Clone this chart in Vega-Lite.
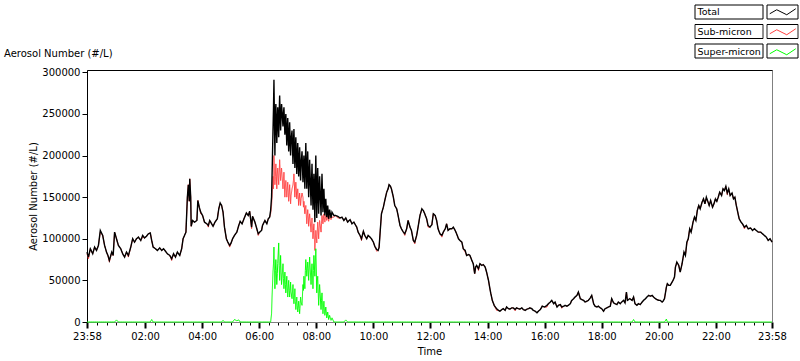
{
 "$schema": "https://vega.github.io/schema/vega-lite/v6.json",
 "width": 685, "height": 252,
 "autosize": {"type": "none"},
 "padding": {"left": 87, "top": 70, "right": 28, "bottom": 39},
 "background": "white",
 "config": {
  "font": "DejaVu Sans",
  "view": {"stroke": "#808080", "strokeWidth": 1},
  "axis": {"labelFont": "DejaVu Sans", "labelFontSize": 10, "labelColor": "black", "titleFont": "DejaVu Sans", "titleFontSize": 10, "titleFontWeight": "normal", "titleColor": "black", "domainColor": "black", "tickColor": "black", "grid": false},
  "axisY": {"title": "Aerosol Number (#/L)", "titlePadding": 3, "values": [0,25000,50000,75000,100000,125000,150000,175000,200000,225000,250000,275000,300000], "format": "d", "tickSize": 5, "labelPadding": 2, "labelFlush": false}
 },
 "title": {"text": "Aerosol Number (#/L)", "anchor": "start", "frame": "group", "dx": -83, "offset": 0, "dy": 52, "font": "DejaVu Sans", "fontSize": 10, "fontWeight": "normal", "color": "black"},
 "data": {"values": [
  {"t":0,"Total":84000,"Sub":82000,"Super":0},{"t":3,"Total":78000,"Sub":76000,"Super":0},{"t":7,"Total":88000,"Sub":88000,"Super":0},{"t":12,"Total":82000,"Sub":82000,"Super":0},{"t":16,"Total":90000,"Sub":90000,"Super":0},{"t":20,"Total":86000,"Sub":86000,"Super":0},{"t":24,"Total":92000,"Sub":92000,"Super":0},{"t":28,"Total":110000,"Sub":108000,"Super":0},{"t":33,"Total":104000,"Sub":104000,"Super":0},{"t":37,"Total":92000,"Sub":92000,"Super":0},{"t":41,"Total":84000,"Sub":84000,"Super":0},{"t":44,"Total":80000,"Sub":80000,"Super":0},{"t":47,"Total":74000,"Sub":72000,"Super":0},{"t":52,"Total":84000,"Sub":84000,"Super":0},{"t":55,"Total":80000,"Sub":80000,"Super":0},{"t":58,"Total":108000,"Sub":108000,"Super":0},{"t":62,"Total":100000,"Sub":100000,"Super":2500},{"t":66,"Total":92000,"Sub":92000,"Super":0},{"t":71,"Total":88000,"Sub":88000,"Super":0},{"t":75,"Total":82000,"Sub":82000,"Super":0},{"t":79,"Total":78000,"Sub":78000,"Super":0},{"t":83,"Total":84000,"Sub":84000,"Super":0},{"t":87,"Total":80000,"Sub":78000,"Super":0},{"t":92,"Total":90000,"Sub":90000,"Super":0},{"t":96,"Total":100000,"Sub":100000,"Super":0},{"t":100,"Total":96000,"Sub":96000,"Super":0},{"t":104,"Total":100000,"Sub":100000,"Super":0},{"t":108,"Total":102000,"Sub":102000,"Super":0},{"t":113,"Total":98000,"Sub":98000,"Super":0},{"t":117,"Total":104000,"Sub":102000,"Super":0},{"t":121,"Total":101000,"Sub":101000,"Super":0},{"t":125,"Total":103000,"Sub":103000,"Super":0},{"t":129,"Total":106000,"Sub":106000,"Super":0},{"t":133,"Total":107000,"Sub":107000,"Super":0},{"t":136,"Total":98000,"Sub":98000,"Super":3000},{"t":139,"Total":90000,"Sub":90000,"Super":0},{"t":144,"Total":88000,"Sub":88000,"Super":0},{"t":148,"Total":86000,"Sub":86000,"Super":0},{"t":153,"Total":89000,"Sub":89000,"Super":0},{"t":157,"Total":86000,"Sub":86000,"Super":0},{"t":161,"Total":88000,"Sub":88000,"Super":0},{"t":165,"Total":85000,"Sub":85000,"Super":0},{"t":169,"Total":82000,"Sub":82000,"Super":0},{"t":174,"Total":80000,"Sub":80000,"Super":0},{"t":178,"Total":76000,"Sub":74000,"Super":0},{"t":182,"Total":82000,"Sub":82000,"Super":0},{"t":186,"Total":78000,"Sub":78000,"Super":0},{"t":190,"Total":84000,"Sub":84000,"Super":0},{"t":195,"Total":80000,"Sub":80000,"Super":0},{"t":199,"Total":88000,"Sub":88000,"Super":0},{"t":202,"Total":100000,"Sub":100000,"Super":0},{"t":205,"Total":104000,"Sub":104000,"Super":0},{"t":208,"Total":108000,"Sub":108000,"Super":0},
  {"t":211,"Total":150000,"Sub":150000,"Super":0},{"t":213,"Total":165000,"Sub":165000,"Super":0},{"t":215,"Total":145000,"Sub":145000,"Super":0},{"t":216,"Total":172000,"Sub":172000,"Super":0},{"t":218,"Total":150000,"Sub":150000,"Super":0},{"t":219,"Total":115000,"Sub":115000,"Super":0},{"t":222,"Total":122000,"Sub":122000,"Super":0},{"t":226,"Total":120000,"Sub":120000,"Super":0},{"t":231,"Total":122000,"Sub":122000,"Super":0},{"t":233,"Total":146000,"Sub":146000,"Super":0},{"t":236,"Total":138000,"Sub":138000,"Super":0},{"t":239,"Total":132000,"Sub":130000,"Super":0},{"t":243,"Total":128000,"Sub":128000,"Super":0},{"t":247,"Total":120000,"Sub":120000,"Super":0},{"t":252,"Total":118000,"Sub":118000,"Super":0},{"t":255,"Total":116000,"Sub":114000,"Super":0},{"t":258,"Total":122000,"Sub":122000,"Super":0},{"t":262,"Total":118000,"Sub":118000,"Super":0},{"t":265,"Total":115000,"Sub":115000,"Super":0},{"t":269,"Total":120000,"Sub":120000,"Super":0},{"t":274,"Total":124000,"Sub":124000,"Super":0},{"t":277,"Total":136000,"Sub":136000,"Super":0},{"t":280,"Total":143000,"Sub":143000,"Super":0},{"t":283,"Total":140000,"Sub":140000,"Super":0},{"t":286,"Total":132000,"Sub":132000,"Super":2000},{"t":289,"Total":114000,"Sub":114000,"Super":0},{"t":293,"Total":100000,"Sub":100000,"Super":0},{"t":296,"Total":96000,"Sub":96000,"Super":0},{"t":300,"Total":92000,"Sub":90000,"Super":0},{"t":303,"Total":95000,"Sub":95000,"Super":0},{"t":306,"Total":100000,"Sub":100000,"Super":0},{"t":310,"Total":104000,"Sub":104000,"Super":3000},{"t":315,"Total":108000,"Sub":108000,"Super":1500},{"t":319,"Total":116000,"Sub":116000,"Super":2500},{"t":322,"Total":121000,"Sub":121000,"Super":0},{"t":326,"Total":118000,"Sub":118000,"Super":0},{"t":330,"Total":124000,"Sub":124000,"Super":0},{"t":335,"Total":131000,"Sub":131000,"Super":0},{"t":339,"Total":128000,"Sub":128000,"Super":0},{"t":342,"Total":133000,"Sub":133000,"Super":0},{"t":346,"Total":114000,"Sub":112000,"Super":0},{"t":348,"Total":127000,"Sub":127000,"Super":0},{"t":353,"Total":120000,"Sub":120000,"Super":0},{"t":357,"Total":112000,"Sub":112000,"Super":0},{"t":360,"Total":106000,"Sub":104000,"Super":0},{"t":363,"Total":108000,"Sub":108000,"Super":0},{"t":367,"Total":110000,"Sub":110000,"Super":0},{"t":369,"Total":116000,"Sub":116000,"Super":0},{"t":374,"Total":122000,"Sub":122000,"Super":0},{"t":378,"Total":118000,"Sub":118000,"Super":0},{"t":381,"Total":124000,"Sub":124000,"Super":0},{"t":384,"Total":126000,"Sub":126000,"Super":0},{"t":386,"Total":134000,"Sub":130000,"Super":0},
  {"t":388,"Total":150000,"Sub":140000,"Super":10000},{"t":389,"Total":175000,"Sub":150000,"Super":30000},{"t":391,"Total":230000,"Sub":175000,"Super":60000},{"t":392,"Total":255000,"Sub":160000,"Super":70000},{"t":393,"Total":291000,"Sub":200000,"Super":90000},{"t":395,"Total":200000,"Sub":165000,"Super":40000},{"t":396,"Total":245000,"Sub":175000,"Super":62000},{"t":397,"Total":262000,"Sub":190000,"Super":75000},{"t":399,"Total":215000,"Sub":160000,"Super":45000},{"t":400,"Total":240000,"Sub":178000,"Super":58000},{"t":401,"Total":258000,"Sub":185000,"Super":70000},{"t":403,"Total":222000,"Sub":165000,"Super":95000},{"t":404,"Total":250000,"Sub":180000,"Super":68000},{"t":405,"Total":272000,"Sub":195000,"Super":50000},{"t":407,"Total":230000,"Sub":170000,"Super":80000},{"t":408,"Total":248000,"Sub":178000,"Super":60000},{"t":409,"Total":262000,"Sub":185000,"Super":45000},{"t":412,"Total":235000,"Sub":160000,"Super":70000},{"t":413,"Total":250000,"Sub":172000,"Super":52000},{"t":414,"Total":258000,"Sub":180000,"Super":40000},{"t":416,"Total":225000,"Sub":150000,"Super":60000},{"t":417,"Total":238000,"Sub":162000,"Super":45000},{"t":418,"Total":250000,"Sub":170000,"Super":35000},{"t":420,"Total":212000,"Sub":150000,"Super":55000},{"t":421,"Total":232000,"Sub":160000,"Super":42000},{"t":422,"Total":245000,"Sub":168000,"Super":30000},{"t":424,"Total":205000,"Sub":145000,"Super":50000},{"t":425,"Total":222000,"Sub":155000,"Super":38000},{"t":426,"Total":240000,"Sub":165000,"Super":30000},{"t":428,"Total":200000,"Sub":142000,"Super":48000},{"t":429,"Total":218000,"Sub":152000,"Super":36000},{"t":431,"Total":230000,"Sub":160000,"Super":28000},{"t":433,"Total":190000,"Sub":165000,"Super":45000},{"t":434,"Total":214000,"Sub":170000,"Super":30000},{"t":435,"Total":232000,"Sub":178000,"Super":22000},{"t":437,"Total":185000,"Sub":150000,"Super":40000},{"t":438,"Total":205000,"Sub":160000,"Super":25000},{"t":439,"Total":222000,"Sub":168000,"Super":15000},{"t":441,"Total":178000,"Sub":148000,"Super":30000},{"t":442,"Total":198000,"Sub":155000,"Super":20000},{"t":443,"Total":215000,"Sub":160000,"Super":12000},{"t":445,"Total":175000,"Sub":140000,"Super":25000},{"t":446,"Total":192000,"Sub":148000,"Super":16000},{"t":447,"Total":210000,"Sub":155000,"Super":10000},{"t":449,"Total":170000,"Sub":140000,"Super":30000},{"t":450,"Total":188000,"Sub":148000,"Super":24000},{"t":452,"Total":205000,"Sub":155000,"Super":20000},{"t":454,"Total":168000,"Sub":150000,"Super":45000},{"t":455,"Total":185000,"Sub":138000,"Super":38000},{"t":456,"Total":200000,"Sub":145000,"Super":55000},{"t":458,"Total":160000,"Sub":130000,"Super":40000},{"t":459,"Total":190000,"Sub":136000,"Super":62000},{"t":460,"Total":215000,"Sub":140000,"Super":75000},{"t":462,"Total":160000,"Sub":118000,"Super":55000},{"t":463,"Total":185000,"Sub":128000,"Super":64000},{"t":464,"Total":205000,"Sub":135000,"Super":72000},{"t":466,"Total":150000,"Sub":115000,"Super":50000},{"t":467,"Total":172000,"Sub":124000,"Super":66000},{"t":468,"Total":195000,"Sub":130000,"Super":78000},{"t":471,"Total":140000,"Sub":108000,"Super":45000},{"t":472,"Total":168000,"Sub":118000,"Super":60000},{"t":473,"Total":190000,"Sub":125000,"Super":70000},{"t":475,"Total":135000,"Sub":100000,"Super":40000},{"t":476,"Total":158000,"Sub":110000,"Super":62000},{"t":477,"Total":178000,"Sub":118000,"Super":80000},{"t":479,"Total":120000,"Sub":86000,"Super":55000},{"t":480,"Total":165000,"Sub":98000,"Super":72000},{"t":481,"Total":200000,"Sub":110000,"Super":88000},{"t":483,"Total":125000,"Sub":95000,"Super":35000},{"t":484,"Total":160000,"Sub":108000,"Super":48000},{"t":485,"Total":185000,"Sub":120000,"Super":55000},{"t":487,"Total":130000,"Sub":100000,"Super":20000},{"t":488,"Total":152000,"Sub":112000,"Super":34000},{"t":489,"Total":175000,"Sub":122000,"Super":45000},{"t":492,"Total":128000,"Sub":108000,"Super":15000},{"t":493,"Total":155000,"Sub":118000,"Super":26000},{"t":494,"Total":178000,"Sub":128000,"Super":35000},{"t":496,"Total":132000,"Sub":118000,"Super":10000},{"t":497,"Total":146000,"Sub":124000,"Super":18000},{"t":498,"Total":160000,"Sub":130000,"Super":25000},{"t":500,"Total":128000,"Sub":120000,"Super":8000},{"t":502,"Total":148000,"Sub":128000,"Super":18000},{"t":504,"Total":126000,"Sub":122000,"Super":5000},{"t":506,"Total":140000,"Sub":128000,"Super":12000},{"t":508,"Total":124000,"Sub":121000,"Super":3000},{"t":510,"Total":135000,"Sub":128000,"Super":8000},{"t":513,"Total":125000,"Sub":123000,"Super":2000},{"t":515,"Total":132000,"Sub":126000,"Super":5000},{"t":519,"Total":128000,"Sub":126000,"Super":0},{"t":523,"Total":128000,"Sub":128000,"Super":0},{"t":527,"Total":127000,"Sub":125000,"Super":0},{"t":532,"Total":125000,"Sub":125000,"Super":0},
  {"t":536,"Total":126000,"Sub":126000,"Super":0},{"t":540,"Total":122000,"Sub":122000,"Super":0},{"t":544,"Total":125000,"Sub":125000,"Super":2500},{"t":548,"Total":120000,"Sub":120000,"Super":0},{"t":553,"Total":123000,"Sub":123000,"Super":0},{"t":557,"Total":118000,"Sub":118000,"Super":0},{"t":561,"Total":120000,"Sub":120000,"Super":0},{"t":567,"Total":114000,"Sub":114000,"Super":0},{"t":570,"Total":108000,"Sub":108000,"Super":0},{"t":574,"Total":104000,"Sub":104000,"Super":0},{"t":577,"Total":100000,"Sub":98000,"Super":0},{"t":581,"Total":109000,"Sub":109000,"Super":0},{"t":584,"Total":104000,"Sub":104000,"Super":0},{"t":588,"Total":100000,"Sub":100000,"Super":0},{"t":591,"Total":104000,"Sub":104000,"Super":0},{"t":595,"Total":102000,"Sub":102000,"Super":0},{"t":598,"Total":100000,"Sub":100000,"Super":0},{"t":602,"Total":96000,"Sub":96000,"Super":0},{"t":605,"Total":91000,"Sub":91000,"Super":0},{"t":609,"Total":87000,"Sub":85000,"Super":0},{"t":612,"Total":86000,"Sub":86000,"Super":0},{"t":614,"Total":89500,"Sub":89500,"Super":0},{"t":617,"Total":114000,"Sub":114000,"Super":0},{"t":619,"Total":130000,"Sub":130000,"Super":0},{"t":623,"Total":138000,"Sub":138000,"Super":0},{"t":626,"Total":146000,"Sub":146000,"Super":0},{"t":630,"Total":156000,"Sub":156000,"Super":0},{"t":633,"Total":160000,"Sub":160000,"Super":0},{"t":635,"Total":165000,"Sub":165000,"Super":0},{"t":638,"Total":163000,"Sub":163000,"Super":0},{"t":640,"Total":160000,"Sub":160000,"Super":0},{"t":644,"Total":150000,"Sub":150000,"Super":0},{"t":647,"Total":140000,"Sub":140000,"Super":0},{"t":651,"Total":136000,"Sub":136000,"Super":0},{"t":654,"Total":128000,"Sub":128000,"Super":0},{"t":658,"Total":116000,"Sub":116000,"Super":0},{"t":661,"Total":112000,"Sub":112000,"Super":0},{"t":665,"Total":108000,"Sub":108000,"Super":0},{"t":668,"Total":106000,"Sub":104000,"Super":0},{"t":672,"Total":112000,"Sub":112000,"Super":0},{"t":675,"Total":122000,"Sub":122000,"Super":0},{"t":679,"Total":114000,"Sub":114000,"Super":0},{"t":682,"Total":110000,"Sub":110000,"Super":0},{"t":686,"Total":98000,"Sub":98000,"Super":0},{"t":689,"Total":96000,"Sub":94000,"Super":0},{"t":693,"Total":104000,"Sub":104000,"Super":0},{"t":696,"Total":114000,"Sub":114000,"Super":0},{"t":700,"Total":128000,"Sub":128000,"Super":0},{"t":704,"Total":136000,"Sub":136000,"Super":0},{"t":707,"Total":134000,"Sub":134000,"Super":0},{"t":710,"Total":130000,"Sub":130000,"Super":0},{"t":714,"Total":124000,"Sub":124000,"Super":0},{"t":717,"Total":116000,"Sub":114000,"Super":0},{"t":721,"Total":114000,"Sub":114000,"Super":0},{"t":725,"Total":117000,"Sub":117000,"Super":0},{"t":728,"Total":130000,"Sub":130000,"Super":0},{"t":732,"Total":128000,"Sub":128000,"Super":0},{"t":735,"Total":122000,"Sub":122000,"Super":0},{"t":738,"Total":112000,"Sub":112000,"Super":0},{"t":742,"Total":106000,"Sub":106000,"Super":0},{"t":746,"Total":104000,"Sub":102000,"Super":0},{"t":749,"Total":108000,"Sub":108000,"Super":0},{"t":753,"Total":112000,"Sub":112000,"Super":0},{"t":756,"Total":118000,"Sub":118000,"Super":0},{"t":759,"Total":110000,"Sub":110000,"Super":0},{"t":763,"Total":112000,"Sub":112000,"Super":0},{"t":767,"Total":112000,"Sub":112000,"Super":0},{"t":770,"Total":114000,"Sub":114000,"Super":0},{"t":774,"Total":110000,"Sub":110000,"Super":0},{"t":777,"Total":106000,"Sub":106000,"Super":0},{"t":781,"Total":100000,"Sub":100000,"Super":0},
  {"t":784,"Total":98000,"Sub":98000,"Super":0},{"t":788,"Total":96000,"Sub":96000,"Super":0},{"t":791,"Total":88000,"Sub":88000,"Super":0},{"t":795,"Total":86000,"Sub":84000,"Super":0},{"t":798,"Total":80000,"Sub":80000,"Super":0},{"t":802,"Total":81000,"Sub":81000,"Super":0},{"t":805,"Total":80000,"Sub":80000,"Super":0},{"t":809,"Total":74000,"Sub":74000,"Super":0},{"t":812,"Total":70000,"Sub":70000,"Super":0},{"t":815,"Total":58000,"Sub":58000,"Super":0},{"t":817,"Total":66000,"Sub":66000,"Super":0},{"t":819,"Total":68000,"Sub":68000,"Super":0},{"t":823,"Total":64000,"Sub":62000,"Super":0},{"t":826,"Total":70000,"Sub":70000,"Super":0},{"t":830,"Total":68000,"Sub":68000,"Super":0},{"t":833,"Total":69000,"Sub":69000,"Super":0},{"t":837,"Total":66000,"Sub":66000,"Super":0},{"t":840,"Total":60000,"Sub":60000,"Super":0},{"t":844,"Total":50000,"Sub":50000,"Super":0},{"t":847,"Total":40000,"Sub":40000,"Super":0},{"t":849,"Total":34000,"Sub":34000,"Super":0},{"t":852,"Total":26000,"Sub":26000,"Super":0},{"t":856,"Total":20000,"Sub":20000,"Super":0},{"t":861,"Total":16000,"Sub":14000,"Super":0},{"t":865,"Total":14000,"Sub":14000,"Super":0},{"t":868,"Total":13000,"Sub":13000,"Super":0},{"t":872,"Total":15000,"Sub":15000,"Super":0},{"t":875,"Total":16000,"Sub":16000,"Super":0},{"t":879,"Total":14000,"Sub":14000,"Super":0},{"t":882,"Total":18000,"Sub":18000,"Super":0},{"t":886,"Total":16000,"Sub":16000,"Super":0},{"t":889,"Total":15500,"Sub":15500,"Super":0},{"t":893,"Total":17000,"Sub":17000,"Super":0},{"t":896,"Total":17000,"Sub":17000,"Super":0},{"t":900,"Total":15000,"Sub":13500,"Super":0},{"t":903,"Total":17000,"Sub":17000,"Super":0},{"t":907,"Total":16000,"Sub":16000,"Super":0},{"t":910,"Total":15500,"Sub":15500,"Super":0},{"t":914,"Total":17000,"Sub":17000,"Super":0},{"t":917,"Total":15000,"Sub":15000,"Super":0},{"t":921,"Total":14000,"Sub":14000,"Super":0},{"t":925,"Total":15500,"Sub":15500,"Super":0},{"t":928,"Total":16000,"Sub":16000,"Super":0},{"t":931,"Total":17000,"Sub":17000,"Super":0},{"t":935,"Total":16000,"Sub":16000,"Super":0},{"t":938,"Total":14000,"Sub":14000,"Super":0},{"t":942,"Total":13000,"Sub":13000,"Super":0},{"t":946,"Total":11000,"Sub":11000,"Super":0},{"t":949,"Total":13000,"Sub":13000,"Super":0},{"t":953,"Total":15000,"Sub":15000,"Super":0},{"t":957,"Total":19000,"Sub":19000,"Super":0},{"t":962,"Total":18000,"Sub":18000,"Super":0},{"t":967,"Total":20000,"Sub":18000,"Super":0},{"t":970,"Total":22000,"Sub":22000,"Super":0},{"t":974,"Total":24000,"Sub":24000,"Super":0},{"t":977,"Total":26000,"Sub":26000,"Super":0},{"t":981,"Total":22000,"Sub":22000,"Super":0},{"t":984,"Total":24000,"Sub":24000,"Super":0},{"t":988,"Total":18000,"Sub":18000,"Super":0},{"t":991,"Total":20000,"Sub":20000,"Super":0},{"t":995,"Total":21000,"Sub":21000,"Super":0},{"t":998,"Total":18000,"Sub":16500,"Super":0},{"t":1002,"Total":19000,"Sub":19000,"Super":0},{"t":1005,"Total":20000,"Sub":20000,"Super":0},{"t":1009,"Total":19000,"Sub":19000,"Super":0},{"t":1012,"Total":20000,"Sub":20000,"Super":0},{"t":1016,"Total":22000,"Sub":22000,"Super":0},{"t":1019,"Total":26000,"Sub":26000,"Super":0},{"t":1023,"Total":28000,"Sub":28000,"Super":0},{"t":1026,"Total":30000,"Sub":30000,"Super":0},{"t":1030,"Total":32000,"Sub":32000,"Super":0},{"t":1033,"Total":36000,"Sub":36000,"Super":0},{"t":1037,"Total":28000,"Sub":28000,"Super":0},{"t":1040,"Total":27000,"Sub":27000,"Super":0},{"t":1044,"Total":26000,"Sub":26000,"Super":0},{"t":1047,"Total":24000,"Sub":24000,"Super":0},{"t":1051,"Total":25000,"Sub":25000,"Super":0},{"t":1054,"Total":26000,"Sub":26000,"Super":0},{"t":1058,"Total":29000,"Sub":29000,"Super":0},{"t":1061,"Total":32000,"Sub":32000,"Super":0},{"t":1065,"Total":22000,"Sub":22000,"Super":0},{"t":1068,"Total":19000,"Sub":19000,"Super":0},{"t":1072,"Total":18000,"Sub":18000,"Super":0},{"t":1075,"Total":19000,"Sub":19000,"Super":0},{"t":1079,"Total":17000,"Sub":17000,"Super":0},{"t":1082,"Total":16000,"Sub":16000,"Super":0},{"t":1086,"Total":13000,"Sub":13000,"Super":0},{"t":1089,"Total":16000,"Sub":16000,"Super":0},{"t":1093,"Total":17000,"Sub":17000,"Super":0},{"t":1096,"Total":18000,"Sub":18000,"Super":0},{"t":1100,"Total":19000,"Sub":19000,"Super":0},{"t":1103,"Total":28000,"Sub":28000,"Super":0},{"t":1107,"Total":23000,"Sub":23000,"Super":0},{"t":1110,"Total":22000,"Sub":22000,"Super":0},{"t":1114,"Total":21000,"Sub":21000,"Super":0},{"t":1117,"Total":24000,"Sub":24000,"Super":0},{"t":1121,"Total":22000,"Sub":22000,"Super":0},{"t":1124,"Total":24000,"Sub":24000,"Super":0},{"t":1128,"Total":26000,"Sub":26000,"Super":0},{"t":1131,"Total":23000,"Sub":23000,"Super":0},{"t":1134,"Total":36000,"Sub":36000,"Super":0},{"t":1136,"Total":26000,"Sub":26000,"Super":0},{"t":1141,"Total":28000,"Sub":28000,"Super":0},{"t":1146,"Total":26000,"Sub":26000,"Super":0},{"t":1149,"Total":30000,"Sub":30000,"Super":3000},{"t":1152,"Total":22000,"Sub":22000,"Super":0},{"t":1156,"Total":20000,"Sub":20000,"Super":0},{"t":1159,"Total":22000,"Sub":22000,"Super":0},{"t":1163,"Total":21000,"Sub":21000,"Super":0},{"t":1167,"Total":24000,"Sub":24000,"Super":0},{"t":1170,"Total":26000,"Sub":26000,"Super":0},{"t":1174,"Total":28000,"Sub":28000,"Super":0},{"t":1177,"Total":30000,"Sub":30000,"Super":0},{"t":1181,"Total":32000,"Sub":32000,"Super":0},{"t":1184,"Total":31000,"Sub":31000,"Super":0},{"t":1188,"Total":32000,"Sub":32000,"Super":0},{"t":1191,"Total":30000,"Sub":30000,"Super":0},{"t":1195,"Total":28000,"Sub":28000,"Super":0},{"t":1198,"Total":27000,"Sub":27000,"Super":0},{"t":1202,"Total":26000,"Sub":26000,"Super":0},{"t":1205,"Total":26000,"Sub":26000,"Super":0},{"t":1209,"Total":24000,"Sub":24000,"Super":0},{"t":1211,"Total":25000,"Sub":25000,"Super":0},{"t":1214,"Total":28000,"Sub":28000,"Super":0},{"t":1218,"Total":42000,"Sub":42000,"Super":3500},{"t":1220,"Total":46000,"Sub":46000,"Super":0},{"t":1223,"Total":44000,"Sub":44000,"Super":0},{"t":1226,"Total":44000,"Sub":44000,"Super":0},{"t":1230,"Total":48000,"Sub":48000,"Super":0},{"t":1232,"Total":50000,"Sub":50000,"Super":0},{"t":1235,"Total":54000,"Sub":54000,"Super":0},{"t":1237,"Total":66000,"Sub":66000,"Super":0},{"t":1240,"Total":72000,"Sub":72000,"Super":0},{"t":1244,"Total":68000,"Sub":68000,"Super":0},{"t":1247,"Total":60000,"Sub":60000,"Super":0},
  {"t":1251,"Total":70000,"Sub":70000,"Super":0},{"t":1255,"Total":84000,"Sub":84000,"Super":0},{"t":1258,"Total":80000,"Sub":80000,"Super":0},{"t":1261,"Total":96000,"Sub":94000,"Super":0},{"t":1264,"Total":100000,"Sub":100000,"Super":0},{"t":1267,"Total":112000,"Sub":112000,"Super":0},{"t":1270,"Total":108000,"Sub":108000,"Super":0},{"t":1274,"Total":120000,"Sub":120000,"Super":0},{"t":1277,"Total":126000,"Sub":126000,"Super":0},{"t":1280,"Total":122000,"Sub":122000,"Super":0},{"t":1283,"Total":134000,"Sub":134000,"Super":0},{"t":1286,"Total":140000,"Sub":140000,"Super":0},{"t":1289,"Total":136000,"Sub":136000,"Super":0},{"t":1293,"Total":144000,"Sub":144000,"Super":0},{"t":1296,"Total":148000,"Sub":148000,"Super":0},{"t":1299,"Total":142000,"Sub":142000,"Super":0},{"t":1302,"Total":150000,"Sub":148000,"Super":0},{"t":1305,"Total":145000,"Sub":145000,"Super":0},{"t":1308,"Total":140000,"Sub":140000,"Super":0},{"t":1311,"Total":146000,"Sub":146000,"Super":0},{"t":1315,"Total":138000,"Sub":138000,"Super":0},{"t":1318,"Total":142000,"Sub":142000,"Super":0},{"t":1321,"Total":148000,"Sub":148000,"Super":0},{"t":1324,"Total":145000,"Sub":145000,"Super":0},{"t":1327,"Total":150000,"Sub":150000,"Super":0},{"t":1330,"Total":156000,"Sub":156000,"Super":0},{"t":1334,"Total":152000,"Sub":152000,"Super":0},{"t":1337,"Total":160000,"Sub":160000,"Super":0},{"t":1340,"Total":158000,"Sub":158000,"Super":0},{"t":1343,"Total":163000,"Sub":163000,"Super":0},{"t":1346,"Total":155000,"Sub":153000,"Super":0},{"t":1349,"Total":160000,"Sub":160000,"Super":0},{"t":1352,"Total":152000,"Sub":152000,"Super":0},{"t":1356,"Total":155000,"Sub":155000,"Super":0},{"t":1359,"Total":148000,"Sub":148000,"Super":0},{"t":1362,"Total":150000,"Sub":150000,"Super":0},{"t":1365,"Total":140000,"Sub":140000,"Super":0},{"t":1368,"Total":132000,"Sub":132000,"Super":0},{"t":1371,"Total":124000,"Sub":124000,"Super":0},{"t":1375,"Total":120000,"Sub":120000,"Super":0},{"t":1378,"Total":118000,"Sub":118000,"Super":0},{"t":1382,"Total":114000,"Sub":112000,"Super":0},{"t":1386,"Total":116000,"Sub":116000,"Super":0},{"t":1390,"Total":112000,"Sub":112000,"Super":0},{"t":1395,"Total":113000,"Sub":113000,"Super":0},{"t":1399,"Total":110000,"Sub":110000,"Super":0},{"t":1403,"Total":112000,"Sub":112000,"Super":0},{"t":1407,"Total":110000,"Sub":110000,"Super":0},{"t":1411,"Total":108000,"Sub":108000,"Super":0},{"t":1416,"Total":108000,"Sub":108000,"Super":0},{"t":1420,"Total":106000,"Sub":106000,"Super":0},{"t":1424,"Total":104000,"Sub":104000,"Super":0},{"t":1428,"Total":102000,"Sub":102000,"Super":0},{"t":1432,"Total":98000,"Sub":98000,"Super":0},{"t":1436,"Total":100000,"Sub":100000,"Super":0},{"t":1440,"Total":96000,"Sub":96000,"Super":0}
 ]},
 "layer": [
  {
   "mark": {"type": "line", "strokeWidth": 1},
   "encoding": {
    "x": {"field": "t", "type": "quantitative", "scale": {"domain": [0, 1440], "nice": false, "zero": false},
      "axis": {"orient": "bottom", "title": "Time", "titlePadding": 5,
        "values": [0,22,42,62,82,102,122,142,162,182,202,222,242,262,282,302,322,342,362,382,402,422,442,462,482,502,522,542,562,582,602,622,642,662,682,702,722,742,762,782,802,822,842,862,882,902,922,942,962,982,1002,1022,1042,1062,1082,1102,1122,1142,1162,1182,1202,1222,1242,1262,1282,1302,1322,1342,1362,1382,1402,1422,1440],
        "labelExpr": "datum.value == 0 || datum.value == 1440 ? '23:58' : ((datum.value - 2) % 120 == 0 ? ((datum.value - 2) / 60 < 10 ? '0' : '') + ((datum.value - 2) / 60) + ':00' : '')",
        "tickSize": {"condition": {"test": "datum.value == 0 || datum.value == 1440 || (datum.value - 2) % 120 == 0", "value": 6}, "value": 3},
        "tickWidth": {"condition": {"test": "datum.value == 0 || datum.value == 1440 || (datum.value - 2) % 120 == 0", "value": 2}, "value": 1},
        "labelFlush": false, "labelOverlap": false, "labelBound": false, "labelPadding": 3, "domainColor": "#808080"}},
    "y": {"field": "Sub", "type": "quantitative", "scale": {"domain": [0, 302800], "nice": false}, "title": "Aerosol Number (#/L)"},
    "color": {"datum": "Sub-micron", "scale": {"domain": ["Total", "Sub-micron", "Super-micron"], "range": ["#000000", "#ff4040", "#00ff00"]},
      "legend": {"orient": "none", "legendX": 599, "legendY": -63, "title": null, "padding": 0, "symbolType": "M19.75,0.5L21.5,-0.5L24,0.75L26.25,-0.75", "symbolSize": 64, "symbolStrokeWidth": 1, "symbolFillColor": "transparent", "labelFont": "DejaVu Sans", "labelFontSize": 9.5, "labelColor": "black", "labelOffset": 2, "rowPadding": 9, "labelLimit": 200}},
    "strokeDash": {"datum": "Sub-micron", "scale": {"domain": ["Super-micron", "Sub-micron", "Total"], "range": [[1, 0], [1, 0], [1, 0]]},
      "legend": {"orient": "none", "legendX": 599, "legendY": -63, "title": null, "padding": 0, "symbolType": "M1,-1.75H18V1.75H1Z M19,-1.75H26.75V1.75H19Z", "symbolSize": 64, "symbolStrokeWidth": 1, "symbolStrokeColor": "black", "symbolFillColor": "transparent", "labelExpr": "''", "labelFont": "DejaVu Sans", "labelFontSize": 10, "labelOffset": 2, "rowPadding": 1.5}}
   }
  },
  {
   "mark": {"type": "line", "strokeWidth": 1.4},
   "encoding": {
    "x": {"field": "t", "type": "quantitative", "axis": {"orient": "top", "labels": false, "ticks": false, "title": null, "domainColor": "black"}},
    "y": {"field": "Total", "type": "quantitative", "title": "Aerosol Number (#/L)"},
    "color": {"datum": "Total"},
    "strokeDash": {"datum": "Total"}
   }
  },
  {
   "mark": {"type": "line", "strokeWidth": 1},
   "encoding": {
    "x": {"field": "t", "type": "quantitative", "axis": null},
    "y": {"field": "Super", "type": "quantitative", "title": "Aerosol Number (#/L)"},
    "color": {"datum": "Super-micron"},
    "strokeDash": {"datum": "Super-micron"}
   }
  }
 ],
 "resolve": {"axis": {"x": "independent"}}
}
